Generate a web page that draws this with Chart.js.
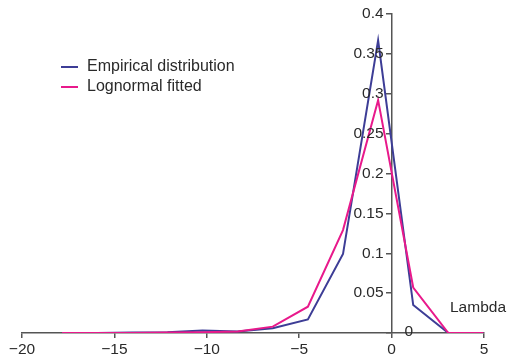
<!DOCTYPE html>
<html>
<head>
<meta charset="utf-8">
<script src="https://cdn.jsdelivr.net/npm/chart.js@4/dist/chart.umd.min.js"></script>
<style>
  html, body { margin: 0; padding: 0; background: #fff; }
  #wrap { width: 508px; height: 355px; }
</style>
</head>
<body>
<div id="wrap"><canvas id="lambdaChart" width="508" height="355"></canvas></div>
<script>
// Lambda distribution: empirical vs fitted lognormal

const lambdaValues = [-17.83, -15.93, -14.03, -12.13, -10.23, -8.33, -6.43, -4.53, -2.63, -0.73, 1.17, 3.07, 4.97];
const empirical = [0, 0, 0.0005, 0.001, 0.003, 0.002, 0.006, 0.017, 0.099, 0.367, 0.035, 0, 0];
const lognormal = [0, 0, 0, 0.0005, 0.001, 0.002, 0.008, 0.033, 0.129, 0.292, 0.057, 0, 0];
const xTicks = [-20, -15, -10, -5, 0, 5];
const seriesNames = ['Empirical distribution', 'Lognormal fitted'];

const FONT = "'Liberation Sans', Arial, sans-serif";
const TEXT = '#2a2a2a';
const AXIS = '#555555';

const toPoints = (ys) => lambdaValues.map((x, i) => ({ x: x, y: ys[i] }));

// extra text: y tick labels left of the centred axis, the "0" label, axis title, legend
const extras = {
    id: 'extras',
    afterDraw(chart) {
        const ctx = chart.ctx;
        const xs = chart.scales.x;
        const ys = chart.scales.y;
        const axisX = xs.getPixelForValue(0);
        ctx.save();
        ctx.font = '15.5px ' + FONT;
        ctx.fillStyle = TEXT;
        ctx.textBaseline = 'middle';

        ctx.textAlign = 'right';
        ys.ticks.forEach(t => {
            if (t.value === 0) return;
            const label = String(Math.round(t.value * 100) / 100);
            ctx.fillText(label, axisX - 8, ys.getPixelForValue(t.value));
        });

        ctx.textAlign = 'left';
        ctx.fillText('0', axisX + 13, ys.getPixelForValue(0) - 1);
        ctx.fillText('Lambda', 450, 308);

        ctx.font = '16px ' + FONT;
        chart.data.datasets.forEach((ds, i) => {
            const y = 67 + i * 20;
            ctx.strokeStyle = ds.borderColor;
            ctx.lineWidth = 2;
            ctx.beginPath();
            ctx.moveTo(61, y);
            ctx.lineTo(78, y);
            ctx.stroke();
            ctx.fillStyle = TEXT;
            ctx.fillText(ds.label, 87, y);
        });
        ctx.restore();
    }
};

document.addEventListener('DOMContentLoaded', () => {
    const ctx = document.getElementById('lambdaChart');
    new Chart(ctx, {
        type: 'line',
        data: {
            datasets: [{
                label: seriesNames[0],
                data: toPoints(empirical),
                borderColor: '#3d3d96',
                borderWidth: 2,
                pointRadius: 0,
                tension: 0,
                order: 2
            }, {
                label: seriesNames[1],
                data: toPoints(lognormal),
                borderColor: '#e8198b',
                borderWidth: 2,
                pointRadius: 0,
                tension: 0,
                order: 1
            }]
        },
        options: {
            responsive: false,
            animation: false,
            layout: {
                padding: { left: 22, right: 24, top: 14, bottom: 0 }
            },
            plugins: {
                legend: { display: false },
                tooltip: { enabled: false }
            },
            scales: {
                x: {
                    type: 'linear',
                    min: -20,
                    max: 5,
                    afterBuildTicks: (scale) => {
                        scale.ticks = xTicks.map(v => ({ value: v }));
                    },
                    afterFit: (scale) => { scale.height = 22; },
                    ticks: {
                        callback: (v) => (v < 0 ? '\u2212' + Math.abs(v) : String(v)),
                        color: TEXT,
                        padding: 2,
                        maxRotation: 0,
                        font: { family: FONT, size: 15.5 }
                    },
                    grid: {
                        drawOnChartArea: false,
                        drawTicks: true,
                        tickLength: 5,
                        color: AXIS,
                        lineWidth: 1.5
                    },
                    border: { display: true, color: AXIS, width: 1.5 }
                },
                y: {
                    type: 'linear',
                    min: 0,
                    max: 0.4,
                    position: { x: 0 },
                    ticks: {
                        stepSize: 0.05,
                        display: false
                    },
                    grid: {
                        drawOnChartArea: false,
                        drawTicks: true,
                        tickLength: 5,
                        color: AXIS,
                        lineWidth: 1.5
                    },
                    border: { display: true, color: AXIS, width: 1.5 }
                }
            }
        },
        plugins: [extras]
    });
});
</script>
</body>
</html>
